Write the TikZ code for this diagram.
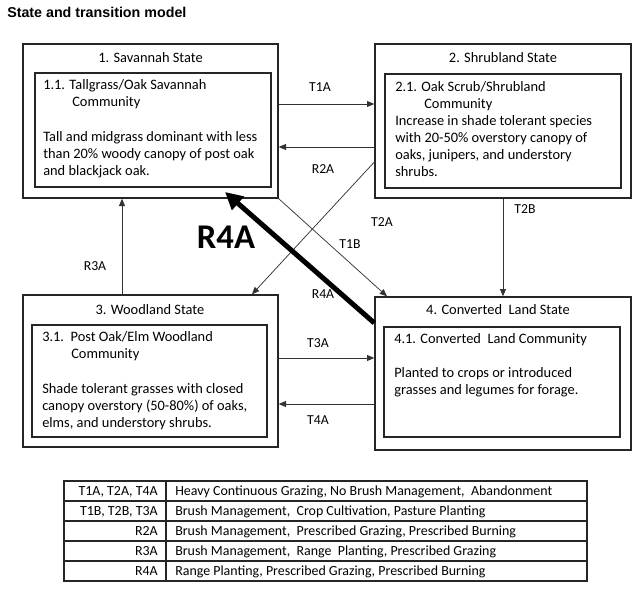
\documentclass[tikz,border=0pt]{standalone}
\usepackage{fontspec}
\setmainfont{Carlito}
\newfontfamily\arialfont{Liberation Sans}
\usetikzlibrary{arrows.meta,fit}
\begin{document}
\begin{tikzpicture}[x=0.75pt,y=-0.75pt,
  box/.style={draw=black!85, line width=1pt, inner sep=0pt},
  arr/.style={draw=black!80, line width=0.75pt, -{Triangle[length=5.5pt,width=4.5pt]}},
  thinarr/.style={arr, line width=0.55pt},
  bigarr/.style={draw=black, line width=3.75pt, -{Triangle[length=13pt,width=13pt]}},
  lbl/.style={font=\fontsize{10.3}{12}\selectfont, inner sep=0pt},
  body/.style={font=\fontsize{10.8}{12.75}\selectfont, align=left, anchor=north west, inner sep=0pt},
  stitle/.style={font=\fontsize{10.8}{12.75}\selectfont, inner sep=0pt},
  tab/.style={font=\fontsize{10.45}{12}\selectfont, inner sep=0pt}]
\useasboundingbox[fill=white] (0,0) rectangle (640,589);

% title
\node[font=\arialfont\bfseries\fontsize{10.7}{12}\selectfont, anchor=base west, inner sep=0pt] (title) at (7,17) {State and transition model};

% state boxes
\node[box, fit={(23,44) (278,198)}] (s1) {};
\node[box, fit={(35,73) (271,187)}] (c1) {};
\node[box, fit={(375,44) (631,198)}] (s2) {};
\node[box, fit={(385,74) (621,188)}] (c2) {};
\node[box, fit={(23,295) (278,447)}] (s3) {};
\node[box, fit={(32,325) (267,437)}] (c3) {};
\node[box, fit={(375,297) (631,450)}] (s4) {};
\node[box, fit={(384,327) (620,437)}] (c4) {};

\node[stitle] (s1t) at (150.5,58) {1. Savannah State};
\node[stitle] (s2t) at (503,58) {2. Shrubland State};
\node[stitle] (s3t) at (150,310) {3. Woodland State};
\node[stitle] (s4t) at (498,310) {4. Converted\ \ Land State};

\node[body] (b1) at (43,79.5) {1.1. Tallgrass/Oak Savannah\\\hspace*{21.75pt}Community\\[13.5pt]Tall and midgrass dominant with less\\than 20\% woody canopy of post oak\\and blackjack oak.};
\node[body] (b2) at (395,81.5) {2.1. Oak Scrub/Shrubland\\\hspace*{21.75pt}Community\\Increase in shade tolerant species\\with 20-50\% overstory canopy of\\oaks, junipers, and understory\\shrubs.};
\node[body] (b3) at (42,331.5) {3.1.\ \ Post Oak/Elm Woodland\\\hspace*{21.75pt}Community\\[13.5pt]Shade tolerant grasses with closed\\canopy overstory (50-80\%) of oaks,\\elms, and understory shrubs.};
\node[body] (b4) at (394,333.5) {4.1. Converted\ \ Land Community\\[12.75pt]Planted to crops or introduced\\grasses and legumes for forage.};

% connectors
\coordinate (r4end) at (225,192);
\draw[arr] (s1.east |- 0,104) -- (s2.west |- 0,104);
\draw[arr] (s2.west |- 0,147) -- (s1.east |- 0,147);
\draw[thinarr] (s2.west |- 0,162) -- (s3.north -| 252,0);
\draw[thinarr] (s1.south east) -- (s4.north -| 387,0);
\draw[arr] (s2.south) -- (s4.north);
\draw[arr] (s3.north -| 122,0) -- (s1.south -| 122,0);
\draw[arr] (s3.east |- 0,358) -- (s4.west |- 0,358);
\draw[arr] (s4.west |- 0,404) -- (s3.east |- 0,404);
\draw[bigarr] (s4.west |- 0,323) -- (r4end);

% labels
\node[lbl] (lT1A) at (320,87) {T1A};
\node[lbl] (lR2A) at (323,169) {R2A};
\node[lbl] (lT2A) at (382,222) {T2A};
\node[lbl] (lT1B) at (350,244) {T1B};
\node[lbl] (lT2B) at (525,209) {T2B};
\node[lbl] (lR3A) at (95,266) {R3A};
\node[lbl] (lR4A) at (323,294) {R4A};
\node[lbl] (lT3A) at (318,343) {T3A};
\node[lbl] (lT4A) at (318,420) {T4A};
\node[font=\bfseries\fontsize{26}{30}\selectfont, inner sep=0pt] (bigR4A) at (226,237) {R4A};

% table
\node[draw=black!85, line width=0.9pt, inner sep=0pt, fit={(64,481) (587,581)}] (tb) {};
\foreach \yy in {501,521,541,561} \draw[black!85, line width=0.9pt] (tb.west |- 0,\yy) -- (tb.east |- 0,\yy);
\draw[black!85, line width=0.9pt] (tb.north -| 166,0) -- (tb.south -| 166,0);
\node[tab, anchor=base east] (k1) at (158,495) {T1A, T2A, T4A};
\node[tab, anchor=base east] (k2) at (158,515) {T1B, T2B, T3A};
\node[tab, anchor=base east] (k3) at (158,535) {R2A};
\node[tab, anchor=base east] (k4) at (158,555) {R3A};
\node[tab, anchor=base east] (k5) at (158,575) {R4A};
\node[tab, anchor=base west] (v1) at (175,495) {Heavy Continuous Grazing, No Brush Management,\ \ Abandonment};
\node[tab, anchor=base west] (v2) at (175,515) {Brush Management,\ \ Crop Cultivation, Pasture Planting};
\node[tab, anchor=base west] (v3) at (175,535) {Brush Management,\ \ Prescribed Grazing, Prescribed Burning};
\node[tab, anchor=base west] (v4) at (175,555) {Brush Management,\ \ Range\ \ Planting, Prescribed Grazing};
\node[tab, anchor=base west] (v5) at (175,575) {Range Planting, Prescribed Grazing, Prescribed Burning};
\end{tikzpicture}
\end{document}
